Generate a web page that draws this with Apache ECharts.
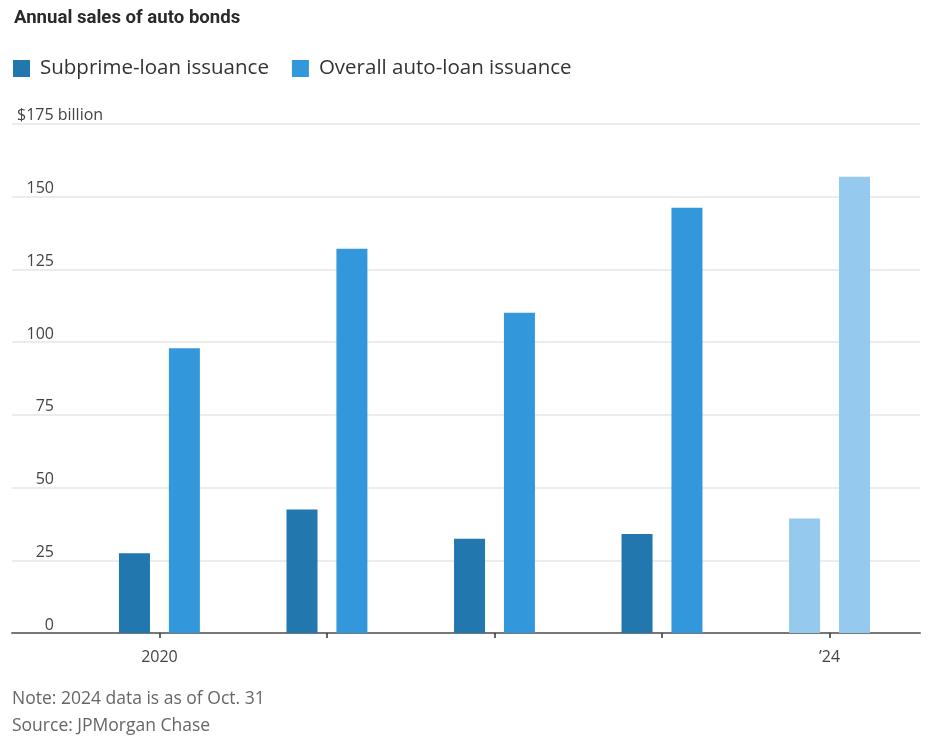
<!DOCTYPE html>
<html>
<head>
<meta charset="utf-8">
<script src="https://cdn.jsdelivr.net/npm/echarts@6/dist/echarts.min.js"></script>
<style>
html,body{margin:0;padding:0;background:#fff;}
#chart{width:936px;height:746px;}
</style>
</head>
<body>
<div id="chart"></div>
<script>
// ---- data ----
var years = [2020, 2021, 2022, 2023, 2024];
var subprime = [27.4, 42.5, 32.4, 34.0, 39.4];
var overall = [97.9, 132.1, 110.1, 146.2, 156.9];
var partialYear = 2024;
var labelYears = [2020, 2024];
var labelTexts = ['2020', '\u201924'];
var yTicks = [0, 25, 50, 75, 100, 125, 150, 175];
var yTopLabel = '$175 billion';
var seriesNames = ['Subprime-loan issuance', 'Overall auto-loan issuance'];
var titleText = 'Annual sales of auto bonds';
var noteText = 'Note: 2024 data is as of Oct. 31';
var sourceText = 'Source: JPMorgan Chase';

var C_SUB = '#2277ae';
var C_ALL = '#3398db';
var C_LIGHT = '#95caee';
var FONT = '"Open Sans", "Noto Sans", sans-serif';

function build(vals) {
  return years.map(function (y, i) {
    var item = { value: [y, vals[i]] };
    if (y === partialYear) item.itemStyle = { color: C_LIGHT };
    return item;
  });
}

var chart = echarts.init(document.getElementById('chart'), null, { renderer: 'canvas' });
chart.setOption({
  animation: false,
  backgroundColor: '#fff',
  title: [{
    text: titleText,
    left: 14, top: 9, padding: 0,
    textStyle: { fontFamily: 'Roboto, sans-serif', fontWeight: 'bold', fontSize: 18.6, color: '#2a2a2a' }
  }, {
    text: noteText + '\n' + sourceText,
    left: 12, top: 686, padding: 0,
    textStyle: { fontFamily: FONT, fontWeight: 'normal', fontSize: 17.5, color: '#666', lineHeight: 27 }
  }],
  legend: {
    left: 13, top: 58, padding: 0,
    icon: 'rect',
    itemWidth: 17, itemHeight: 17,
    itemGap: 23,
    textStyle: { fontFamily: FONT, fontSize: 20.5, color: '#333', padding: [0, 0, 0, 5] },
    data: seriesNames
  },
  grid: { left: 12, right: 16, top: 124, bottom: 113, containLabel: false },
  xAxis: {
    type: 'value',
    min: 2019.12, max: 2024.54,
    splitLine: { show: false },
    axisLine: { show: true, lineStyle: { color: '#777', width: 2 } },
    axisTick: { show: true, customValues: years, length: 5, lineStyle: { color: '#333', width: 1.5 } },
    axisLabel: {
      customValues: labelYears,
      margin: 16,
      fontFamily: FONT, fontSize: 16, color: '#444',
      formatter: function (v) { var i = labelYears.indexOf(Math.round(v)); return i >= 0 ? labelTexts[i] : ''; }
    }
  },
  yAxis: {
    type: 'value',
    min: 0, max: 175, interval: 25,
    name: yTopLabel,
    nameLocation: 'end',
    nameGap: 0,
    nameTextStyle: { fontFamily: FONT, fontSize: 16, color: '#444', align: 'left', verticalAlign: 'bottom', padding: [0, 0, 1, 5] },
    axisLine: { show: false },
    axisTick: { show: false },
    splitLine: { show: true, lineStyle: { color: '#ececec', width: 2 } },
    axisLabel: {
      inside: true,
      margin: 0,
      align: 'left',
      verticalAlign: 'bottom',
      formatter: function (v) { return v === yTicks[yTicks.length - 1] ? '' : '{n|' + v + '}'; },
      rich: {
        n: { width: 42, align: 'right', fontFamily: FONT, fontSize: 16, color: '#444' }
      }
    }
  },
  series: [{
    name: seriesNames[0],
    type: 'bar',
    barWidth: 31,
    barGap: '61%',
    itemStyle: { color: C_SUB },
    data: build(subprime)
  }, {
    name: seriesNames[1],
    type: 'bar',
    barWidth: 31,
    barGap: '61%',
    itemStyle: { color: C_ALL },
    data: build(overall)
  }]
});
</script>
</body>
</html>
